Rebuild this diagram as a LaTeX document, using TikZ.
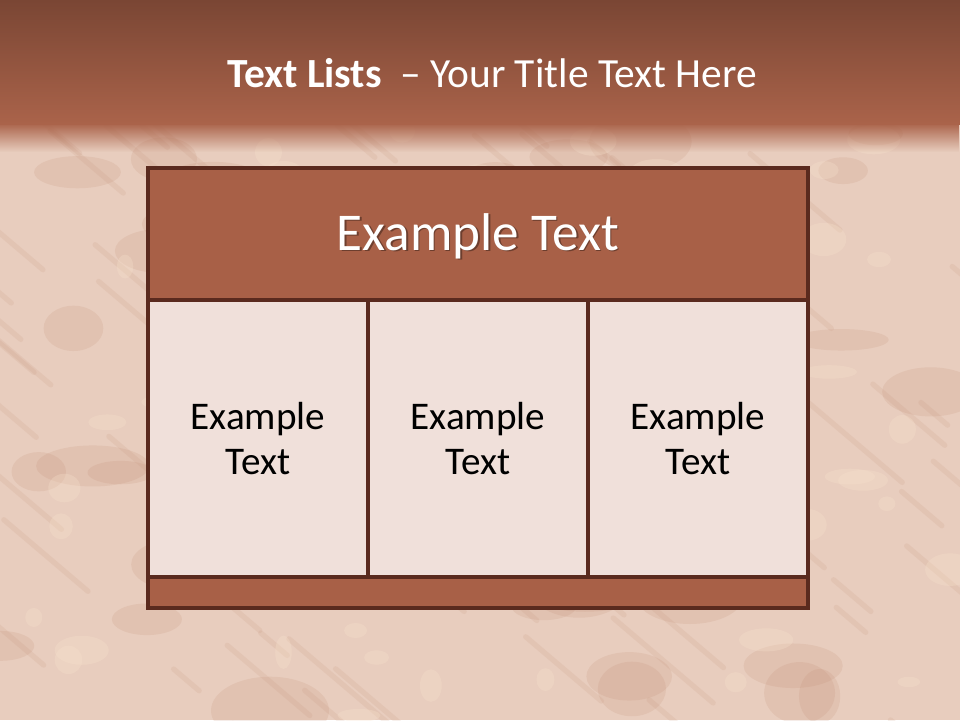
\documentclass[tikz,border=0pt]{standalone}
\usepackage{fontspec}
\setmainfont{Carlito}
\usepackage{xcolor}
\usetikzlibrary{fadings}

\definecolor{bandTop}{HTML}{7A4634}
\definecolor{bandLow}{HTML}{AA634A}
\definecolor{rustBg}{HTML}{E8CDBE}
\definecolor{rustDark}{HTML}{C08A70}
\definecolor{rustLight}{HTML}{F8E2CC}
\definecolor{frame}{HTML}{5A2A1E}
\definecolor{headFill}{HTML}{A86047}
\definecolor{cellFill}{HTML}{F0E0DA}

\begin{document}
\begin{tikzpicture}[
    x=0.026458cm, y=-0.026458cm,
    every node/.style={inner sep=0pt, outer sep=0pt},
    headBox/.style={
        rectangle,
        draw=frame,
        fill=headFill,
        line width=2.3pt,
        minimum width=660*0.026458cm,
        minimum height=132*0.026458cm
    },
    cellBox/.style={
        rectangle,
        draw=frame,
        fill=cellFill,
        line width=2.3pt,
        minimum width=220*0.026458cm,
        minimum height=277*0.026458cm,
        align=center,
        font=\fontsize{29.5}{34.5}\selectfont
    },
    footBox/.style={
        rectangle,
        draw=frame,
        fill=headFill,
        line width=2.3pt,
        minimum width=660*0.026458cm,
        minimum height=31*0.026458cm
    },
    streak/.style={line cap=round, opacity=0.13}
]
\useasboundingbox (0,0) rectangle (960,720);

% rusty background
\fill[rustBg] (0,0) rectangle (960,720);
\pgfmathsetseed{11}
\foreach \i in {1,...,60}{
    \pgfmathsetmacro{\xa}{rnd*960}
    \pgfmathsetmacro{\ya}{130+rnd*590}
    \fill[rustDark, opacity=0.16] (\xa,\ya) ellipse ({20+rnd*40} and {10+rnd*25});
}
\foreach \i in {1,...,90}{
    \pgfmathsetmacro{\xa}{rnd*1040-60}
    \pgfmathsetmacro{\ya}{120+rnd*620}
    \pgfmathsetmacro{\len}{25+rnd*90}
    \draw[streak, rustDark, line width=4pt] (\xa,\ya) -- ++(\len,0.85*\len);
}
\foreach \i in {1,...,70}{
    \pgfmathsetmacro{\xa}{rnd*960}
    \pgfmathsetmacro{\ya}{130+rnd*590}
    \fill[rustLight, opacity=0.3] (\xa,\ya) ellipse ({8+rnd*20} and {5+rnd*12});
}

% title band
\shade[top color=bandTop, bottom color=bandLow] (0,0) rectangle (960,124);
\fill[bandLow, path fading=south] (0,123) rectangle (960,152);
\node[anchor=base, text=white, font=\fontsize{31.2}{37}\selectfont] (title) at (492,87)
    {\textbf{Text Lists}\ \ – Your Title Text Here};

% table
\node[headBox, anchor=north west] (hdr) at (148,168) {};
\node[cellBox, anchor=north west] (c1) at (148,300) {Example\\Text};
\node[cellBox, anchor=north west] (c2) at (368,300) {Example\\Text};
\node[cellBox, anchor=north west] (c3) at (588,300) {Example\\Text};
\node[footBox, anchor=north west] (ftr) at (148,577) {};

\node[anchor=base, text=black, opacity=0.35, font=\fontsize{40}{48}\selectfont] at ([xshift=1.2pt, yshift=-1.2pt]hdr.center |- 0,250) {Example Text};
\node[anchor=base, text=white, font=\fontsize{40}{48}\selectfont] (hdrText) at (hdr.center |- 0,250) {Example Text};

\end{tikzpicture}
\end{document}
